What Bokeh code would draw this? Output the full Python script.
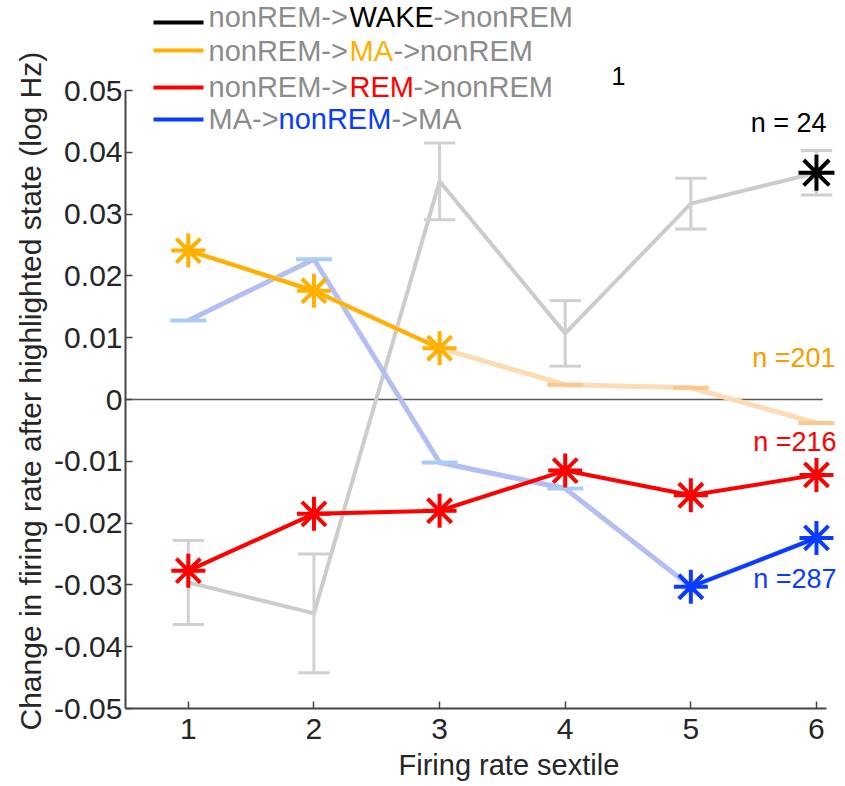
from bokeh.plotting import figure
from bokeh.models import Range1d, Label, FixedTicker, Title
from bokeh.embed import file_html
from bokeh.resources import INLINE

# ---------------- data ----------------
sextile = [1, 2, 3, 4, 5, 6]

wake_mean = [-0.0296, -0.0346, 0.0353, 0.0107, 0.0317, 0.0367]
wake_sem = [0.0068, 0.0096, 0.0062, 0.0053, 0.0041, 0.0036]
wake_sig = [False, False, False, False, False, True]

ma_mean = [0.0241, 0.0176, 0.0083, 0.0024, 0.0019, -0.0038]
ma_sig = [True, True, True, False, False, False]

rem_mean = [-0.0277, -0.0185, -0.0180, -0.0115, -0.0155, -0.0122]
rem_sig = [True, True, True, True, True, True]

nrem_mean = [0.0128, 0.0227, -0.0102, -0.0144, -0.0303, -0.0224]
nrem_sig = [False, False, False, False, True, True]

n_labels = ["n = 24", "n =201", "n =216", "n =287"]

legend_parts = [
    ["nonREM->", "WAKE", "->nonREM"],
    ["nonREM->", "MA", "->nonREM"],
    ["nonREM->", "REM", "->nonREM"],
    ["MA->", "nonREM", "->MA"],
]
legend_highlight = [1, 1, 1, 1]

y_ticks = [-0.05, -0.04, -0.03, -0.02, -0.01, 0, 0.01, 0.02, 0.03, 0.04, 0.05]
y_tick_labels = ["-0.05", "-0.04", "-0.03", "-0.02", "-0.01", "0",
                 "0.01", "0.02", "0.03", "0.04", "0.05"]
x_ticks = [1, 2, 3, 4, 5, 6]

panel_label = "1"
x_label = "Firing rate sextile"
y_label = "Change in firing rate after highlighted state (log Hz)"

# ---------------- styling / layout ----------------
FONT = "Liberation Sans"
BLACK = "#000000"
ORANGE = "#ffb000"
RED = "#ff0000"
BLUE = "#0a3cff"
GRAY_TXT = "#8c8c8c"
AX = "#454545"
TXT = "#262626"

PXX = 125.63   # px per x unit
PXY = 6180.0   # px per y unit
W, H = 840, 786
LEFT = 125
FRAME_BOTTOM = 708
TXT_SHIFT = 10  # label baseline correction (px)


def X(px):
    return 0.5 + (px - LEFT) / PXX


def Y(py):
    return -0.05 + (FRAME_BOTTOM - py) / PXY


p = figure(width=W, height=H, output_backend="svg", toolbar_location=None,
           x_range=Range1d(0.5, X(W)),
           y_range=Range1d(-0.05, Y(0)),
           min_border_left=LEFT, min_border_right=0,
           min_border_top=0, min_border_bottom=H - FRAME_BOTTOM)
p.outline_line_color = None
p.grid.visible = False
p.background_fill_color = "white"
p.border_fill_color = "white"

for ax in (p.xaxis[0], p.yaxis[0]):
    ax.axis_line_color = AX
    ax.axis_line_width = 2
    ax.major_tick_line_color = AX
    ax.major_tick_line_width = 1.5
    ax.major_tick_in = 7
    ax.major_tick_out = 0
    ax.minor_tick_line_color = None
    ax.major_label_text_font = FONT
    ax.major_label_text_font_size = "30px"
    ax.major_label_text_color = TXT

p.xaxis.bounds = (0.5, 6.08)
p.yaxis.bounds = (-0.05, 0.05)
p.xaxis.ticker = FixedTicker(ticks=x_ticks)
p.yaxis.ticker = FixedTicker(ticks=y_ticks)
p.yaxis.major_label_overrides = {t: s for t, s in zip(y_ticks, y_tick_labels)}
p.yaxis.major_label_standoff = 3
p.xaxis.major_label_standoff = 10

# axis labels as side titles (placed outside the frame)
p.add_layout(Title(text=x_label, align="left", offset=398 - LEFT, standoff=10,
                   text_font=FONT, text_font_size="29px", text_font_style="normal",
                   text_color=TXT, vertical_align="bottom"), "below")
p.add_layout(Title(text=y_label, align="left", offset=FRAME_BOTTOM - 730, standoff=10,
                   text_font=FONT, text_font_size="30px", text_font_style="normal",
                   text_color=TXT), "left")

# zero line
p.segment(x0=[0.5], y0=[0], x1=[6.05], y1=[0], line_color="#5a5a5a", line_width=1.6)


def solid_segments(xs, ys, sig):
    x0, y0, x1, y1 = [], [], [], []
    for i in range(len(xs) - 1):
        if sig[i] and sig[i + 1]:
            x0.append(xs[i]); y0.append(ys[i]); x1.append(xs[i + 1]); y1.append(ys[i + 1])
    return x0, y0, x1, y1


# wake (gray) line + error bars
p.line(sextile, wake_mean, line_color="#cccccc", line_width=4)
lo = [m - s for m, s in zip(wake_mean, wake_sem)]
hi = [m + s for m, s in zip(wake_mean, wake_sem)]
p.segment(x0=sextile, y0=lo, x1=sextile, y1=hi, line_color="#d0d0d0", line_width=3)
cap = 0.125
p.segment(x0=[x - cap for x in sextile], y0=lo, x1=[x + cap for x in sextile], y1=lo,
          line_color="#d0d0d0", line_width=3)
p.segment(x0=[x - cap for x in sextile], y0=hi, x1=[x + cap for x in sextile], y1=hi,
          line_color="#d0d0d0", line_width=3)

# light (non-significant) lines
p.line(sextile, nrem_mean, line_color="#b3bef5", line_width=5)
p.line(sextile, ma_mean, line_color="#fddcb5", line_width=5)

# solid segments
for mean, sig, col in ((ma_mean, ma_sig, ORANGE), (rem_mean, rem_sig, RED),
                       (nrem_mean, nrem_sig, BLUE), (wake_mean, wake_sig, BLACK)):
    x0, y0, x1, y1 = solid_segments(sextile, mean, sig)
    if x0:
        p.segment(x0=x0, y0=y0, x1=x1, y1=y1, line_color=col, line_width=4,
                  line_cap="round")

# non-significant dashes
for mean, sig, col in ((ma_mean, ma_sig, "#fcc68c"), (nrem_mean, nrem_sig, "#a8cdf8")):
    xs = [x for x, s in zip(sextile, sig) if not s]
    ys = [m for m, s in zip(mean, sig) if not s]
    p.scatter(xs, ys, marker="dash", size=36, line_color=col, line_width=4)

# significant stars
for mean, sig, col, sz in ((ma_mean, ma_sig, ORANGE, 34), (rem_mean, rem_sig, RED, 34),
                           (nrem_mean, nrem_sig, BLUE, 34), (wake_mean, wake_sig, BLACK, 36)):
    xs = [x for x, s in zip(sextile, sig) if s]
    ys = [m for m, s in zip(mean, sig) if s]
    p.scatter(xs, ys, marker="asterisk", size=sz, line_color=col, line_width=4)

# ---------------- legend ----------------
leg_line_colors = [BLACK, ORANGE, RED, BLUE]
leg_hi_colors = [BLACK, ORANGE, RED, BLUE]
leg_baselines = [27, 61, 97, 129]
leg_line_y = [22, 50, 87, 119]
leg_starts = [[208, 349, 433], [208, 349, 393], [208, 349, 413], [208, 278, 391]]
for r in range(4):
    by = leg_baselines[r] - TXT_SHIFT - 1
    p.segment(x0=[X(153)], y0=[Y(leg_line_y[r])], x1=[X(203)], y1=[Y(leg_line_y[r])],
              line_color=leg_line_colors[r], line_width=4)
    for k, part in enumerate(legend_parts[r]):
        col = leg_hi_colors[r] if k == legend_highlight[r] else GRAY_TXT
        p.add_layout(Label(x=X(leg_starts[r][k]), y=Y(by), text=part,
                           text_font=FONT, text_font_size="29px",
                           text_color=col, text_align="left",
                           text_baseline="alphabetic"))

p.add_layout(Label(x=X(618), y=Y(85 - TXT_SHIFT), text=panel_label, text_font=FONT,
                   text_font_size="25px", text_color=BLACK, text_align="center",
                   text_baseline="alphabetic"))

# n labels
n_pos = [(826, 132), (835, 367), (836, 451), (836, 588)]
n_cols = [BLACK, "#f5a000", RED, BLUE]
for txt, (px, py), col in zip(n_labels, n_pos, n_cols):
    p.add_layout(Label(x=X(px), y=Y(py - TXT_SHIFT), text=txt, text_font=FONT,
                       text_font_size="27px", text_color=col, text_align="right",
                       text_baseline="alphabetic"))

open("out.html", "w").write(file_html(p, INLINE))
